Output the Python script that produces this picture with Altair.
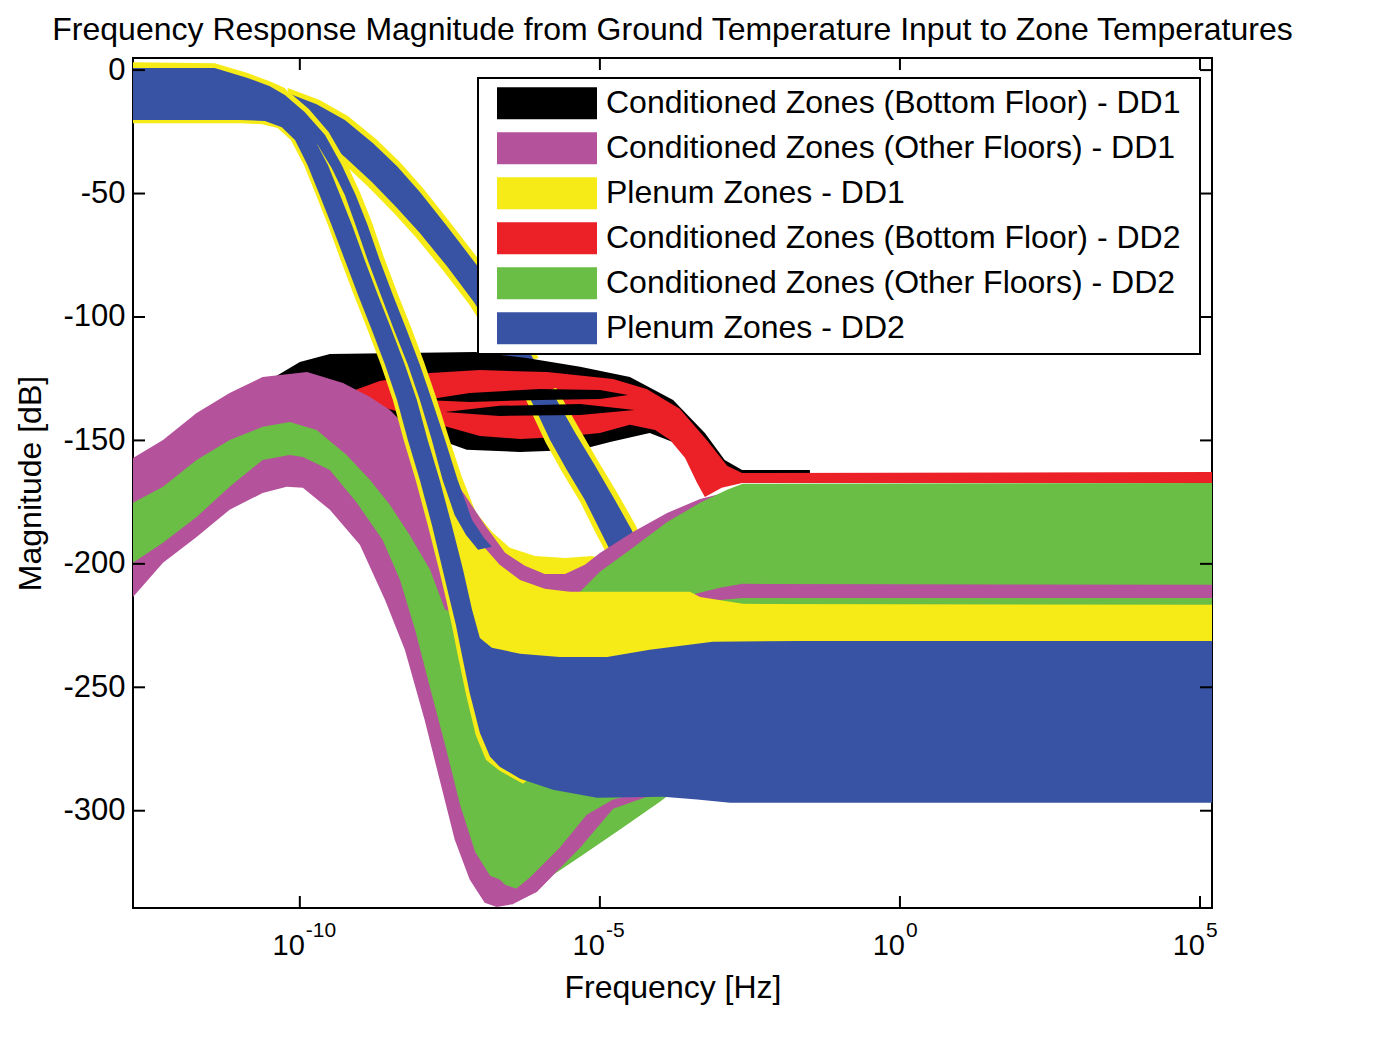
import altair as alt
import pandas as pd

TITLE = "Frequency Response Magnitude from Ground Temperature Input to Zone Temperatures"
SERIES = [
    "Conditioned Zones (Bottom Floor) - DD1",
    "Conditioned Zones (Other Floors) - DD1",
    "Plenum Zones - DD1",
    "Conditioned Zones (Bottom Floor) - DD2",
    "Conditioned Zones (Other Floors) - DD2",
    "Plenum Zones - DD2",
]
COLORS = ["#000000", "#B5529C", "#F6EB16", "#EC2127", "#6ABD45", "#3953A4"]

X_TICKS_EXP = [-10, -5, 0, 5]
Y_TICKS = [0, -50, -100, -150, -200, -250, -300]
X_RANGE_EXP = [-12.78, 5.2]
Y_RANGE = [-339.4, 4.9]

# Each band envelope: vertices [log10(frequency / Hz), magnitude dB]
BLUE_MAIN = [
    [-12.78, 0.8], [-11.42, 0.8], [-10.87, -3.2], [-10.5, -6.5], [-10.25, -10.1],
    [-10.0, -19.4], [-9.75, -28.3], [-9.53, -38.5], [-9.33, -50.6], [-9.13, -62.8], [-8.92, -76.9],
    [-8.7, -91.1], [-8.47, -105.3], [-8.25, -119.4], [-8.05, -133.6], [-7.87, -149.8], [-7.67, -166.0],
    [-7.47, -184.2], [-7.28, -202.4], [-7.13, -218.6], [-7.0, -230.0], [-6.8, -234.0], [-6.33, -236.4],
    [-5.67, -237.7], [-4.88, -237.7], [-4.17, -234.8], [-3.12, -231.6], [-1.67, -231.2], [5.2, -231.2],
    [5.2, -296.8], [-2.83, -296.8], [-3.38, -295.5], [-3.95, -294.3], [-5.05, -294.7], [-5.78, -291.5],
    [-6.33, -287.0], [-6.67, -282.2], [-6.83, -278.1],
    [-7.0, -268.4], [-7.17, -252.2], [-7.3, -236.8], [-7.4, -224.7], [-7.52, -212.6], [-7.62, -202.4],
    [-7.8, -184.2], [-8.0, -166.0], [-8.2, -149.8], [-8.38, -133.6], [-8.58, -119.4], [-8.8, -105.3],
    [-9.03, -91.1], [-9.25, -76.9], [-9.47, -62.8], [-9.67, -50.6], [-9.87, -38.5], [-10.08, -28.3],
    [-10.3, -23.1], [-10.58, -20.6], [-11.0, -20.2], [-12.78, -20.2],
]
BLUE_B = [
    [-10.25, -10.1], [-9.92, -17.0], [-9.58, -26.3], [-9.3, -38.5], [-9.07, -50.6], [-8.87, -62.8],
    [-8.67, -76.9], [-8.45, -91.1], [-8.22, -105.3], [-8.0, -119.4], [-7.8, -133.6], [-7.58, -149.8],
    [-7.37, -166.0], [-7.13, -182.2], [-6.93, -189.5], [-6.8, -193.1],
    [-7.03, -194.3], [-7.23, -188.3], [-7.42, -180.2], [-7.62, -166.0], [-7.8, -149.8], [-8.0, -133.6],
    [-8.2, -119.4], [-8.43, -105.3], [-8.65, -91.1], [-8.87, -76.9], [-9.07, -62.8], [-9.25, -50.6],
    [-9.47, -39.7], [-9.7, -30.4], [-10.0, -22.3], [-10.25, -16.2],
]
BLUE_C1 = [
    [-10.25, -8.9], [-9.72, -13.8], [-9.25, -20.2], [-8.78, -29.6], [-8.38, -38.9], [-8.0, -49.4],
    [-7.55, -63.2], [-7.05, -79.0], [-6.67, -93.1], [-6.33, -107.3], [-6.08, -118.2],
    [-6.5, -121.0], [-6.83, -104.5], [-7.1, -93.9], [-7.55, -79.4], [-8.0, -66.0], [-8.38, -55.9],
    [-8.8, -45.3], [-9.25, -35.2], [-9.67, -26.7], [-10.0, -21.9], [-10.25, -18.2],
]
BLUE_C2 = [
    [-5.8, -130.4], [-5.72, -133.6], [-5.42, -146.6], [-5.08, -160.3], [-4.75, -174.1], [-4.47, -186.3],
    [-4.25, -198.4],
    [-4.75, -198.4], [-5.0, -186.3], [-5.25, -174.1], [-5.55, -162.0], [-5.83, -149.8], [-6.05, -138.5],
    [-6.17, -132.8],
]
YELLOW_C1 = [
    [-10.2, -7.3], [-9.67, -12.1], [-9.2, -18.6], [-8.73, -27.9], [-8.33, -37.3], [-7.95, -47.8],
    [-7.5, -61.5], [-7.0, -77.3], [-6.6, -91.5], [-6.27, -105.7], [-6.02, -116.6],
    [-6.57, -120.7], [-6.9, -105.7], [-7.17, -95.1], [-7.62, -81.0], [-8.07, -67.6], [-8.45, -57.5],
    [-8.87, -47.0], [-9.32, -36.8], [-9.73, -28.3], [-10.07, -23.5], [-10.25, -21.5],
]
YELLOW_C2 = [
    [-5.73, -128.7], [-5.65, -132.0], [-5.35, -145.0], [-5.02, -158.7], [-4.68, -172.5], [-4.4, -184.6],
    [-4.17, -198.4],
    [-4.83, -198.4], [-5.07, -187.5], [-5.32, -175.3], [-5.62, -163.2], [-5.9, -151.0], [-6.12, -139.7],
    [-6.23, -133.6],
]
YELLOW_B = [
    [-10.18, -8.9], [-9.85, -15.8], [-9.52, -25.1], [-9.23, -37.2], [-9.0, -49.4], [-8.8, -61.5],
    [-8.6, -75.7], [-8.38, -89.9], [-8.15, -104.0], [-7.93, -118.2], [-7.73, -132.4], [-7.52, -148.6],
    [-7.3, -164.8], [-7.07, -179.0], [-6.8, -187.0], [-6.5, -193.5], [-6.08, -196.8], [-5.58, -197.6],
    [-5.13, -196.8], [-4.88, -198.4],
    [-5.0, -206.5], [-6.0, -206.5], [-6.67, -200.4], [-7.03, -192.3],
    [-7.48, -179.4], [-7.68, -166.0], [-7.87, -149.8], [-8.07, -133.6], [-8.27, -119.4], [-8.5, -105.3],
    [-8.72, -91.1], [-8.93, -76.9], [-9.13, -62.8], [-9.32, -50.6], [-9.53, -39.7], [-9.77, -30.4],
    [-10.07, -22.3], [-10.28, -17.0],
]
YELLOW_MAIN = [
    [-12.78, 3.2], [-11.42, 2.8], [-10.87, -1.2], [-10.5, -4.5], [-10.25, -7.3],
    [-9.93, -17.8], [-9.68, -26.7], [-9.47, -36.8], [-9.27, -49.0], [-9.07, -61.1], [-8.85, -75.3],
    [-8.63, -89.5], [-8.4, -103.6], [-8.18, -117.8], [-7.98, -132.0], [-7.8, -148.2], [-7.6, -164.4],
    [-7.42, -174.1], [-7.17, -184.2], [-6.92, -193.5], [-6.67, -200.4], [-6.33, -206.5], [-5.92, -210.1],
    [-5.5, -211.3], [-5.0, -211.3], [-3.5, -211.3], [-3.33, -213.4], [-2.62, -216.2], [5.2, -216.6],
    [5.2, -247.0], [-5.67, -255.1], [-6.0, -283.4], [-6.28, -289.1], [-6.67, -283.8], [-6.9, -279.4],
    [-7.07, -269.2], [-7.23, -253.0], [-7.37, -236.8], [-7.47, -224.7], [-7.58, -212.6], [-7.68, -202.4],
    [-7.87, -184.2], [-8.07, -166.0], [-8.27, -149.8], [-8.45, -133.6], [-8.65, -119.4], [-8.87, -105.3],
    [-9.1, -91.1], [-9.32, -76.9], [-9.53, -62.8], [-9.73, -50.6], [-9.93, -38.5], [-10.15, -28.3],
    [-10.37, -23.5], [-10.63, -21.9], [-11.0, -21.5], [-12.78, -21.5],
]
BLACK_ENV = [
    [-10.7, -129.6], [-10.42, -124.3], [-10.0, -118.2], [-9.5, -115.0], [-7.08, -114.2], [-6.22, -116.6],
    [-5.33, -120.2], [-4.5, -124.3], [-3.78, -133.6], [-3.25, -147.0], [-2.92, -157.9], [-2.63, -162.0],
    [-1.5, -162.0],
    [-1.5, -165.2], [-2.63, -166.4], [-3.33, -162.0], [-3.67, -151.8], [-4.17, -147.0], [-4.83, -150.6],
    [-5.33, -153.8], [-6.33, -154.7], [-7.22, -153.8], [-7.67, -149.8], [-8.33, -141.7], [-9.17, -134.4],
    [-10.0, -131.6], [-10.58, -130.8],
]
BLACK_STREAK_1 = [
    [-7.92, -133.6], [-7.17, -130.8], [-6.0, -129.2], [-5.0, -129.6], [-4.53, -131.6],
    [-5.0, -133.2], [-6.0, -133.6], [-7.17, -134.4],
]
BLACK_STREAK_2 = [
    [-7.58, -138.5], [-6.67, -136.0], [-5.33, -135.2], [-4.42, -137.7], [-5.33, -139.7], [-6.67, -140.1],
]
RED_ENV = [
    [-9.17, -130.4], [-8.67, -125.9], [-7.83, -122.7], [-7.0, -121.5], [-5.88, -122.3], [-4.78, -125.1],
    [-4.22, -129.2], [-3.67, -137.2], [-3.22, -149.8], [-2.88, -160.3], [-2.63, -163.2], [5.2, -162.8],
    [5.2, -167.2], [-2.63, -167.2], [-2.97, -169.2], [-3.25, -172.9], [-3.38, -167.2], [-3.58, -157.1],
    [-3.83, -149.8], [-4.08, -145.8], [-4.5, -143.7], [-5.0, -147.0], [-5.67, -148.6], [-6.33, -149.4],
    [-7.0, -148.2], [-7.67, -143.7], [-8.33, -138.5], [-8.83, -135.2],
]
MAGENTA_ENV = [
    [-12.78, -157.1], [-12.28, -149.8], [-11.72, -138.9], [-11.17, -130.8], [-10.62, -124.3],
    [-9.88, -122.3], [-9.28, -126.7], [-8.83, -132.4], [-8.5, -137.7], [-8.0, -149.8], [-7.58, -161.1],
    [-7.25, -172.1], [-6.92, -184.2], [-6.58, -195.5], [-6.25, -200.8], [-5.92, -204.1], [-5.58, -204.1],
    [-5.25, -200.4], [-5.0, -195.6], [-4.45, -187.1], [-3.88, -179.4], [-3.33, -173.7], [-3.0, -171.7],
    [-2.75, -170.9], [-2.5, -174.1], [-2.5, -255.1], [-4.0, -293.5],
    [-4.33, -294.7], [-4.78, -298.8], [-5.33, -314.6], [-6.05, -332.8], [-6.5, -338.1], [-6.72, -339.0],
    [-6.92, -337.3], [-7.17, -327.9], [-7.42, -311.7], [-7.67, -287.5], [-7.92, -263.2], [-8.25, -234.8],
    [-8.58, -214.6], [-9.0, -192.3], [-9.5, -178.1], [-9.95, -169.2], [-10.22, -168.8], [-10.62, -171.3],
    [-11.17, -178.1], [-11.72, -189.1], [-12.28, -199.6], [-12.78, -213.4],
]
GREEN_ENV = [
    [-12.78, -175.3], [-12.28, -168.8], [-11.72, -157.9], [-11.17, -149.8], [-10.62, -144.5],
    [-10.17, -142.5], [-9.72, -145.8], [-9.22, -155.9], [-8.83, -166.0], [-8.5, -176.1], [-8.17, -188.3],
    [-7.83, -202.4], [-7.58, -218.6], [-7.0, -222.7], [-5.67, -214.6], [-5.33, -211.3], [-5.0, -203.2],
    [-4.45, -193.5], [-3.88, -183.0], [-3.33, -175.3], [-2.88, -170.0], [-2.62, -167.6], [5.2, -167.2],
    [5.2, -255.1], [-3.33, -255.1], [-3.67, -290.3], [-4.0, -296.4], [-4.67, -307.7], [-5.33, -318.6],
    [-5.92, -328.3], [-6.25, -332.8], [-6.58, -330.0], [-6.67, -327.9], [-6.83, -326.3], [-7.08, -316.6],
    [-7.33, -297.6], [-7.58, -273.3], [-7.83, -250.2], [-8.08, -226.7], [-8.33, -206.5], [-8.62, -190.3],
    [-9.05, -175.3], [-9.5, -162.0], [-9.95, -156.7], [-10.17, -155.9], [-10.62, -157.9], [-11.17, -168.8],
    [-11.72, -181.0], [-12.28, -191.5], [-12.78, -199.6],
]
MAGENTA_STRIP_LOW = [
    [-6.58, -335.2], [-6.17, -327.1], [-5.67, -315.0], [-5.22, -301.6], [-4.78, -295.5], [-4.25, -292.3],
    [-4.17, -293.9], [-4.78, -299.2], [-5.33, -315.0], [-6.05, -332.8], [-6.47, -338.1],
]
MAGENTA_STRIP_RIGHT = [
    [-3.62, -213.4], [-3.0, -209.7], [-2.62, -208.1], [5.2, -208.5], [5.2, -213.8], [-2.62, -213.8],
    [-3.0, -214.6],
]

# drawing order, bottom to top: (series index, envelope)
PIECES = [
    (2, YELLOW_C1), (5, BLUE_C1), (0, BLACK_ENV), (3, RED_ENV), (2, YELLOW_C2), (5, BLUE_C2),
    (0, BLACK_STREAK_1), (0, BLACK_STREAK_2), (2, YELLOW_B), (1, MAGENTA_ENV), (4, GREEN_ENV),
    (1, MAGENTA_STRIP_LOW), (1, MAGENTA_STRIP_RIGHT), (2, YELLOW_MAIN), (5, BLUE_MAIN), (5, BLUE_B),
]

FONT = "Liberation Sans"
FS = 31
W, H = 1079, 850

x_scale = alt.Scale(type="log", domain=[10 ** X_RANGE_EXP[0], 10 ** X_RANGE_EXP[1]], nice=False)
y_scale = alt.Scale(domain=Y_RANGE, nice=False, zero=False)
color_scale = alt.Scale(domain=SERIES, range=COLORS)

x_axis = alt.Axis(values=[10.0 ** e for e in X_TICKS_EXP], labels=False, title="Frequency [Hz]",
                  grid=False, ticks=False, tickSize=0, domain=False, titleFontSize=32,
                  titleFont=FONT, titleColor="black", titleFontWeight="normal", titlePadding=64)
y_axis = alt.Axis(values=Y_TICKS, title="Magnitude [dB]", grid=False, ticks=False, tickSize=0,
                  domain=False, labelFontSize=FS, titleFontSize=32, labelFont=FONT, titleFont=FONT,
                  labelColor="black", titleColor="black", titleFontWeight="normal", labelPadding=8,
                  titlePadding=15, labelFlush=False, labelOverlap=False,
                  labelExpr="replace(datum.label, '\u2212', '-')")
legend = alt.Legend(title=None, orient="none", legendX=345, legendY=20,
                    symbolType="M-1,-0.32H1V0.32H-1Z", symbolSize=10000, symbolStrokeWidth=0,
                    clipHeight=44.3, rowPadding=0, padding=3, labelFontSize=32, labelFont=FONT,
                    labelColor="black", labelOffset=9, symbolOffset=16, labelLimit=2000,
                    labelExpr="datum.label + '\u2002\u200b'",
                    strokeColor="black", fillColor="white")

layers = []
for s, verts in PIECES:
    df = pd.DataFrame({
        "series": SERIES[s],
        "i": list(range(len(verts))),
        "f": [10.0 ** v[0] for v in verts],
        "db": [v[1] for v in verts],
    })
    layers.append(
        alt.Chart(df).mark_line(filled=True, interpolate="linear-closed", clip=True, strokeWidth=0).encode(
            x=alt.X("f:Q", scale=x_scale, axis=x_axis),
            y=alt.Y("db:Q", scale=y_scale, axis=y_axis),
            color=alt.Color("series:N", scale=color_scale, legend=legend),
            order=alt.Order("i:Q"),
        )
    )

ytick_df = pd.DataFrame({"db": Y_TICKS})
xtick_df = pd.DataFrame({
    "f": [10.0 ** e for e in X_TICKS_EXP],
    "base": ["10"] * len(X_TICKS_EXP),
    "exp": [str(e) for e in X_TICKS_EXP],
})
TL = 12
tick_left = alt.Chart(ytick_df).mark_rule(color="black", strokeWidth=2).encode(
    y=alt.Y("db:Q", scale=y_scale, axis=y_axis), x=alt.value(0), x2=alt.value(TL))
tick_right = alt.Chart(ytick_df).mark_rule(color="black", strokeWidth=2).encode(
    y=alt.Y("db:Q", scale=y_scale, axis=y_axis), x=alt.value(W - TL), x2=alt.value(W))
tick_bottom = alt.Chart(xtick_df).mark_rule(color="black", strokeWidth=2).encode(
    x=alt.X("f:Q", scale=x_scale, axis=x_axis), y=alt.value(H - TL), y2=alt.value(H))
tick_top = alt.Chart(xtick_df).mark_rule(color="black", strokeWidth=2).encode(
    x=alt.X("f:Q", scale=x_scale, axis=x_axis), y=alt.value(0), y2=alt.value(TL))

# x tick labels: base "10" with a raised exponent
xlab_base = alt.Chart(xtick_df).mark_text(
    align="right", baseline="alphabetic", dx=5, fontSize=29, font=FONT, color="black").encode(
    x=alt.X("f:Q", scale=x_scale, axis=x_axis), y=alt.value(H + 47), text="base:N")
xlab_exp = alt.Chart(xtick_df).mark_text(
    align="left", baseline="alphabetic", dx=6, fontSize=21, font=FONT, color="black").encode(
    x=alt.X("f:Q", scale=x_scale, axis=x_axis), y=alt.value(H + 29), text="exp:N")

base = alt.layer(*layers, tick_left, tick_right, tick_bottom, tick_top, xlab_base, xlab_exp).properties(
    width=W, height=H,
    title=alt.TitleParams(TITLE, fontSize=32, font=FONT, fontWeight="normal", color="black",
                          anchor="middle", offset=7),
    padding={"left": 133, "top": 58, "right": 188, "bottom": 131},
    autosize=alt.AutoSizeParams(type="none"),
).configure_view(stroke="black", strokeWidth=2)

try:
    chart = base.configure_legend(strokeWidth=2)
    chart.to_dict()
except Exception:
    chart = base

chart.save("out.html", embed_options={"renderer": "svg", "actions": False})
